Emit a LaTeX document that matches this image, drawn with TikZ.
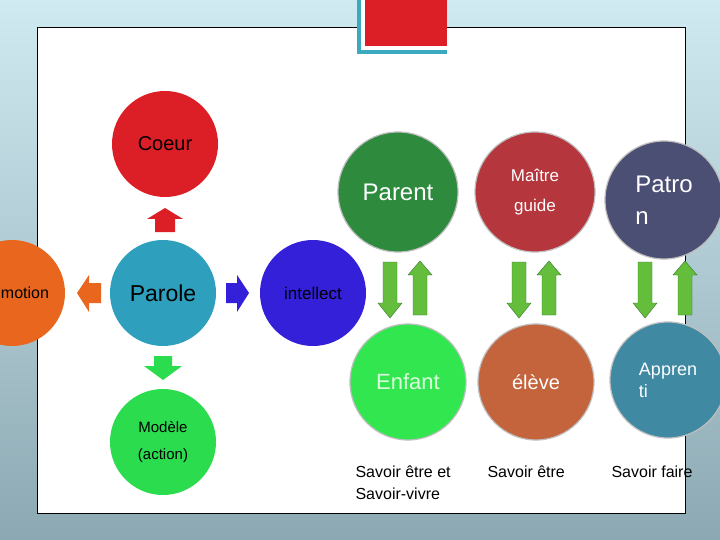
\documentclass[tikz,border=0pt]{standalone}
\usepackage{fontspec}
\setmainfont{Liberation Sans}
\definecolor{bgtop}{RGB}{208,234,241}
\definecolor{bgbot}{RGB}{140,168,178}
\definecolor{boxteal}{RGB}{60,170,190}
\definecolor{cred}{RGB}{220,31,38}
\definecolor{cteal}{RGB}{46,160,190}
\definecolor{corange}{RGB}{232,102,30}
\definecolor{cblue}{RGB}{51,32,216}
\definecolor{cgreen}{RGB}{43,220,79}
\definecolor{cparent}{RGB}{46,139,62}
\definecolor{cmaitre}{RGB}{181,54,60}
\definecolor{cpatron}{RGB}{76,79,116}
\definecolor{cenfant}{RGB}{50,230,80}
\definecolor{tenfant}{RGB}{220,255,220}
\definecolor{celeve}{RGB}{196,100,60}
\definecolor{cappr}{RGB}{63,137,163}
\definecolor{garr}{RGB}{100,190,60}
\definecolor{garrd}{RGB}{50,120,40}
\begin{document}
\begin{tikzpicture}[x=1pt,y=-1pt,
  disc/.style={circle,minimum size=#1,inner sep=0pt,align=center},
  gdisc/.style={circle,minimum size=#1,inner sep=0pt,align=center,draw=black!25,line width=1.2pt,text=white},
  lbl/.style={font=\fontsize{16}{22}\selectfont,align=left,anchor=north west},
  garrow/.style={fill=garr,draw=garrd,line width=0.4pt}]
\useasboundingbox (0,0) rectangle (720,540);
\shade[top color=bgtop, bottom color=bgbot] (0,0) rectangle (720,540);
\fill[white,draw=black,line width=0.8pt] (37,27) rectangle (685,513);
% top red box
\fill[boxteal] (357,-2) rectangle (447,54);
\fill[white] (361,-2) rectangle (447,50);
\fill[cred] (365,-2) rectangle (447,46);
% left cluster
\node[disc=106pt,fill=cred,font=\fontsize{20}{22}\selectfont] (coeur) at (165,144) {Coeur};
\node[disc=106pt,fill=cteal,font=\fontsize{23}{26}\selectfont] (parole) at (163,293) {Parole};
\node[disc=106pt,fill=corange,font=\fontsize{16}{20}\selectfont] (emotion) at (12,293) {\hspace*{26pt}motion};
\node[disc=106pt,fill=cblue,font=\fontsize{17}{20}\selectfont] (intel) at (313,293) {intellect};
\node[disc=106pt,fill=cgreen,font=\fontsize{15}{27}\selectfont] (modele) at (163,442) {Modèle\\(action)};
\fill[cred] (165,208) -- (183,219) -- (175,219) -- (175,232) -- (155,232) -- (155,219) -- (147,219) -- cycle;
\fill[corange] (77,293) -- (89,275) -- (89,283) -- (101,283) -- (101,303) -- (89,303) -- (89,312) -- cycle;
\fill[cblue] (249,293) -- (237,275) -- (237,283) -- (226,283) -- (226,303) -- (237,303) -- (237,312) -- cycle;
\fill[cgreen] (163,380) -- (182,366) -- (172,366) -- (172,356) -- (154,356) -- (154,366) -- (144,366) -- cycle;
% right cluster
\node[gdisc=120pt,fill=cparent,font=\fontsize{24}{28}\selectfont] (parent) at (398,192) {Parent};
\node[gdisc=120pt,fill=cmaitre,font=\fontsize{17}{30}\selectfont] (maitre) at (535,192) {Maître\\guide};
\node[gdisc=118pt,fill=cpatron,font=\fontsize{24}{32}\selectfont,align=left] (patron) at (664,200) {Patro\\n};
\node[gdisc=116pt,fill=cenfant,text=tenfant,font=\fontsize{22}{26}\selectfont] (enfant) at (408,382) {Enfant};
\node[gdisc=116pt,fill=celeve,font=\fontsize{20}{24}\selectfont] (eleve) at (536,382) {élève};
\node[gdisc=116pt,fill=cappr,font=\fontsize{18}{22}\selectfont,align=left] (apprenti) at (668,380) {Appren\\ti};
% green arrow pairs
\foreach \d/\u in {390/420,519/549,645/685}{
  \fill[garrow] (\d-7,262) -- (\d+7,262) -- (\d+7,303) -- (\d+12,303) -- (\d,318) -- (\d-12,303) -- (\d-7,303) -- cycle;
  \fill[garrow] (\u-7,315) -- (\u+7,315) -- (\u+7,275) -- (\u+12,275) -- (\u,261) -- (\u-12,275) -- (\u-7,275) -- cycle;
}
\node[lbl] (s1) at (352,462) {Savoir être et\\Savoir-vivre};
\node[lbl] (s2) at (484,462) {Savoir être};
\node[lbl] (s3) at (608,462) {Savoir faire};
\end{tikzpicture}
\end{document}
